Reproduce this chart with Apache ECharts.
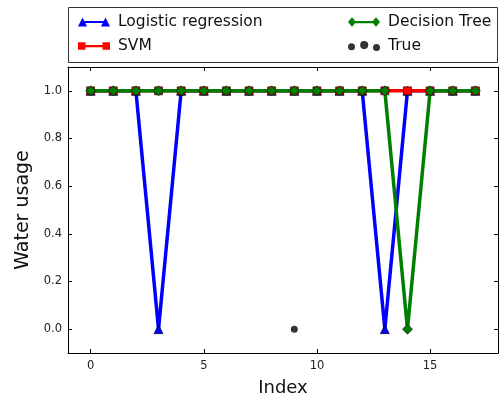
<!DOCTYPE html>
<html>
<head>
<meta charset="utf-8">
<script src="https://cdn.jsdelivr.net/npm/echarts@6/dist/echarts.min.js"></script>
<style>html,body{margin:0;padding:0;background:#fff;}#c{width:499px;height:396px;}</style>
</head>
<body>
<div id="c"></div>
<script>
const indices = [0,1,2,3,4,5,6,7,8,9,10,11,12,13,14,15,16,17];
const logistic = [1,1,1,0,1,1,1,1,1,1,1,1,1,0,1,1,1,1];
const svm      = [1,1,1,1,1,1,1,1,1,1,1,1,1,1,1,1,1,1];
const tree     = [1,1,1,1,1,1,1,1,1,1,1,1,1,1,0,1,1,1];
const truth    = [1,1,1,1,1,1,1,1,1,0,1,1,1,1,1,1,1,1];
const xTicks = [0,5,10,15];
const yTicks = [0,0.2,0.4,0.6,0.8,1.0];

const pairs = arr => indices.map((x,i)=>[x, arr[i]]);
const FONT = 'DejaVu Sans';
const chart = echarts.init(document.getElementById('c'), null, {renderer:'canvas'});

const baseX = {type:'value', min:-1, max:18, splitLine:{show:false},
  axisLine:{onZero:false, lineStyle:{color:'#000', width:1}}};
const baseY = {type:'value', min:-0.1, max:1.1, splitLine:{show:false},
  axisLine:{onZero:false, lineStyle:{color:'#000', width:1}}};

// legend icons in a 32x12 box: marker at each end joined by a line
const triIcon = 'path://M0,11L4.5,2L9,11Z M4,5.6L28,5.6L28,7.6L4,7.6Z M23,11L27.5,2L32,11Z';
const sqIcon = 'path://M0,2.5h7.5v7.5h-7.5Z M6,5.2h20v2.2h-20Z M24.5,2.5h7.5v7.5h-7.5Z';
const diaIcon = 'path://M0,6.2L4,1.5L8,6.2L4,11Z M5,5.2h22v2.2h-22Z M24,6.2L28,1.5L32,6.2L28,11Z';
const dotsIcon = 'path://M4,6.5a2.6,2.6 0 1,0 5.2,0a2.6,2.6 0 1,0 -5.2,0z M13,5.3a3,3 0 1,0 6,0a3,3 0 1,0 -6,0z M22.5,7a2.6,2.6 0 1,0 5.2,0a2.6,2.6 0 1,0 -5.2,0z';

const legendText = {fontFamily:FONT, fontSize:15.5, color:'#111', padding:[0,0,0,3]};
const noBorder = {borderWidth:0};

chart.setOption({
  animation:false,
  backgroundColor:'#fff',
  grid:{left:68, right:1, top:67, bottom:43, containLabel:false, outerBoundsMode:'none'},
  graphic:[{type:'rect', shape:{x:68.5, y:7.5, width:429, height:55},
    style:{fill:'#fff', stroke:'#333', lineWidth:1}, z:-1}],
  legend:[
    {data:[{name:'Logistic regression', icon:triIcon, itemStyle:noBorder},{name:'SVM', icon:sqIcon, itemStyle:noBorder}],
     orient:'vertical', left:73, top:9, itemGap:8,
     itemWidth:32, itemHeight:12, textStyle:legendText},
    {data:[{name:'Decision Tree', icon:diaIcon, itemStyle:noBorder}, {name:'True', icon:dotsIcon, itemStyle:noBorder}],
     orient:'vertical', left:343, top:9, itemGap:8,
     itemWidth:32, itemHeight:12, textStyle:legendText}
  ],
  xAxis:[
    Object.assign({}, baseX, {position:'bottom', name:'Index', nameLocation:'middle', nameGap:26,
      nameTextStyle:{fontFamily:FONT, fontSize:18, color:'#111'},
      axisTick:{inside:true, length:4, customValues:xTicks, lineStyle:{color:'#000'}},
      axisLabel:{customValues:xTicks, fontFamily:FONT, fontSize:11.5, color:'#222', margin:7, formatter:v=>String(v)}}),
    Object.assign({}, baseX, {position:'top',
      axisTick:{inside:true, length:4, customValues:xTicks, lineStyle:{color:'#000'}},
      axisLabel:{show:false}})
  ],
  yAxis:[
    Object.assign({}, baseY, {position:'left', name:'Water usage', nameLocation:'middle', nameGap:31,
      nameTextStyle:{fontFamily:FONT, fontSize:19, color:'#111'},
      axisTick:{inside:true, length:4, customValues:yTicks, lineStyle:{color:'#000'}},
      axisLabel:{customValues:yTicks, fontFamily:FONT, fontSize:11.5, color:'#222', margin:6, formatter:v=>v.toFixed(1)}}),
    Object.assign({}, baseY, {position:'right',
      axisTick:{inside:true, length:4, customValues:yTicks, lineStyle:{color:'#000'}},
      axisLabel:{show:false}})
  ],
  series:[
    {name:'True', type:'scatter', data:pairs(truth), symbol:'circle', symbolSize:7, z:1,
     itemStyle:{color:'#000'}},
    {name:'Logistic regression', type:'line', data:pairs(logistic), symbol:'triangle', symbolSize:9, z:2,
     lineStyle:{color:'#0000ff', width:3.5}, itemStyle:{color:'#0000ff', borderColor:'#000', borderWidth:0.6}},
    {name:'SVM', type:'line', data:pairs(svm), symbol:'rect', symbolSize:8, z:3,
     lineStyle:{color:'#ff0000', width:3.5}, itemStyle:{color:'#ff0000', borderColor:'#000', borderWidth:0.6}},
    {name:'Decision Tree', type:'line', data:pairs(tree), symbol:'diamond', symbolSize:10, z:4,
     lineStyle:{color:'#008000', width:3.5}, itemStyle:{color:'#008000', borderColor:'#000', borderWidth:0.6}}
  ]
});
</script>
</body>
</html>
